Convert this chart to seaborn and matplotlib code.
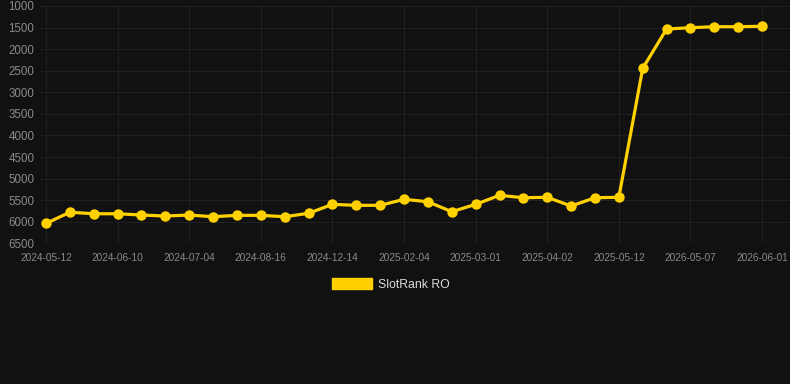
import matplotlib
matplotlib.use("Agg")
import matplotlib.pyplot as plt
from matplotlib.patches import Patch
import seaborn as sns
import pandas as pd

# ---- data ----
series_name = "SlotRank RO"
point_index = list(range(31))
rank_values = [6040, 5780, 5815, 5815, 5845, 5868, 5845, 5884, 5852, 5852,
               5884, 5805, 5597, 5620, 5620, 5481, 5536, 5768, 5597, 5388,
               5444, 5434, 5636, 5444, 5434, 2444, 1533, 1503, 1480, 1480,
               1470]
tick_positions = [0, 3, 6, 9, 12, 15, 18, 21, 24, 27, 30]
tick_labels = ["2024-05-12", "2024-06-10", "2024-07-04", "2024-08-16",
               "2024-12-14", "2025-02-04", "2025-03-01", "2025-04-02",
               "2025-05-12", "2026-05-07", "2026-06-01"]
y_ticks = [1000, 1500, 2000, 2500, 3000, 3500, 4000, 4500, 5000, 5500, 6000, 6500]

BG = "#111111"
GRID = "#202020"
LINE = "#FFD100"
TICK = "#8a8a8a"

sns.set_theme(style="dark")
plt.rcParams["font.family"] = ["Liberation Sans", "DejaVu Sans"]

df = pd.DataFrame({"idx": point_index, "rank": rank_values})

fig = plt.figure(figsize=(7.9, 3.84), dpi=100, facecolor=BG)
ax = fig.add_axes([40 / 790, 1 - 243.3 / 384, 1 - 40 / 790, (243.3 - 6) / 384])
ax.set_facecolor(BG)

sns.lineplot(data=df, x="idx", y="rank", ax=ax, color=LINE, linewidth=2.3,
             marker="o", markersize=7.5, markeredgewidth=0, markeredgecolor=LINE,
             legend=False)

ax.set_ylim(6500, 1000)
ax.set_xlim(-0.25, 31.17)
ax.set_yticks(y_ticks)
ax.set_yticklabels([str(v) for v in y_ticks])
ax.set_xticks(tick_positions)
ax.set_xticklabels(tick_labels)
ax.tick_params(axis="y", labelsize=8.3, colors=TICK, length=0, pad=4)
ax.tick_params(axis="x", labelsize=7.3, colors=TICK, length=4, width=0.8,
               color=GRID, pad=3)
ax.set_xlabel("")
ax.set_ylabel("")
ax.grid(True, color=GRID, linewidth=0.8)
ax.set_axisbelow(True)
for s in ax.spines.values():
    s.set_visible(False)

handle = Patch(facecolor=LINE, edgecolor=LINE)
leg = fig.legend([handle], [series_name], loc="center", bbox_to_anchor=(0.495, 1 - 284.5 / 384),
                 frameon=False, fontsize=8.8, handlelength=3.3, handleheight=0.9,
                 handletextpad=0.5)
for t in leg.get_texts():
    t.set_color("#dddddd")

fig.savefig("out.png", dpi=100, facecolor=BG)
